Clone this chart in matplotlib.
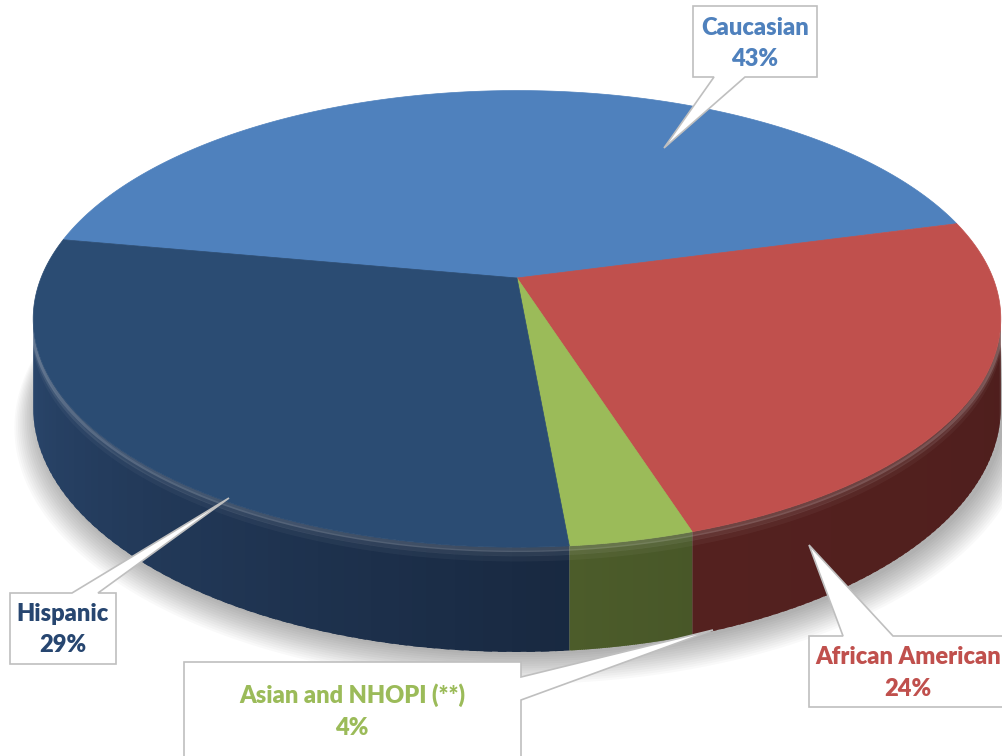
import numpy as np
import matplotlib.pyplot as plt
from matplotlib.patches import Polygon

# data
labels = ['Caucasian', 'African American', 'Asian and NHOPI (**)', 'Hispanic']
shares = [43.0, 24.2, 3.5, 29.3]

top_colors = ['#4F81BD', '#C0504D', '#9BBB59', '#2B4C73']
side_colors = [((60, 100, 150), (50, 85, 130)),
               ((84, 33, 31), (78, 30, 29)),
               ((76, 92, 42), (72, 87, 40)),
               ((42, 70, 108), (24, 40, 64))]
text_colors = ['#4F81BD', '#C0504D', '#9BBB59', '#274670']

start_angle = 169.7   # slices run clockwise from here

# simple perspective for a tilted disc
cx, cy = 517, 278
A, B, k, H = 476, 221, 0.179, 86
vis_lo, vis_hi = 190.3, 349.7


def proj(theta, r=1.0, z=0.0):
    t = np.radians(theta)
    X = r * np.cos(t)
    Y = r * np.sin(t)
    s = 1.0 / (1.0 + k * Y)
    return cx + A * X * s, cy - B * Y * s + z * H * s


fig = plt.figure(figsize=(10.03, 7.56), dpi=100)
ax = fig.add_axes([0, 0, 1, 1])
ax.set_xlim(0, 1003)
ax.set_ylim(756, 0)
ax.axis('off')

# soft shadow under the disc
th = np.linspace(0, 360, 400)
for i in range(14):
    u, v = proj(th, r=1.0 + 0.0035 * i, z=1.0)
    ax.fill(u + 4, v + 3 + i * 1.0, color='black', alpha=0.022, lw=0, zorder=0)

# slice angle ranges
spans = np.array(shares) / sum(shares) * 360
ends = start_angle - np.cumsum(spans)

for i in range(len(shares)):
    lo = ends[i] % 360
    hi = lo + spans[i]
    # side wall, only the front part is visible
    a, b = max(lo, vis_lo), min(hi, vis_hi)
    if b > a:
        n = 60
        tt = np.linspace(a, b, n + 1)
        step = tt[1] - tt[0]
        c0, c1 = np.array(side_colors[i][0]), np.array(side_colors[i][1])
        for j in range(n):
            f = j / n
            col = tuple((c0 + (c1 - c0) * f) / 255)
            seg = np.array([tt[j], min(tt[j + 1] + 0.6 * step, b)])
            ut, vt = proj(seg)
            ub, vb = proj(seg, z=1.0)
            pts = [(ut[0], vt[0]), (ut[1], vt[1]), (ub[1], vb[1]), (ub[0], vb[0])]
            ax.add_patch(Polygon(pts, closed=True, fc=col, lw=0, zorder=1 + j * 1e-4))
        # bevel: soft light band at the top of the side
        for z, al in [(0.02, 0.16), (0.06, 0.09), (0.11, 0.04)]:
            u, v = proj(tt, z=z)
            ax.plot(u, v, color='white', alpha=al, lw=4, zorder=1.5,
                    solid_capstyle='butt')

    # top face
    tt = np.linspace(lo, hi, 200)
    u, v = proj(tt)
    pts = [(cx, cy)] + list(zip(u, v))
    ax.add_patch(Polygon(pts, closed=True, fc=top_colors[i], ec=top_colors[i],
                         lw=0.5, zorder=2))

# callouts (box + pointer)
edge = '#BFBFBF'
callouts = [
    [(693, 6), (817, 6), (817, 77), (745, 77), (664, 148), (714, 77), (693, 77)],
    [(809, 636), (843, 636), (809, 545), (893, 636), (1010, 636), (1010, 707), (809, 707)],
    [(184, 662), (521, 662), (521, 677), (713, 630), (521, 700), (521, 770), (184, 770)],
    [(10, 593), (72, 593), (229, 498), (98, 593), (116, 593), (116, 664), (10, 664)],
]
for poly in callouts:
    ax.add_patch(Polygon(poly, closed=True, fc='white', ec=edge, lw=1.2, zorder=5))

text_pos = [(755, 28, 59), (908, 657, 689), (352, 695, 728), (63, 614, 645)]
font = dict(family='Lato', fontweight='heavy', fontsize=17, ha='center', va='center', zorder=6)
for i in range(len(labels)):
    x, y1, y2 = text_pos[i]
    pct = int(shares[i] + 0.5)
    ax.text(x, y1, labels[i], color=text_colors[i], **font)
    ax.text(x, y2, f'{pct}%', color=text_colors[i], **font)

fig.savefig('out.png', dpi=100)
